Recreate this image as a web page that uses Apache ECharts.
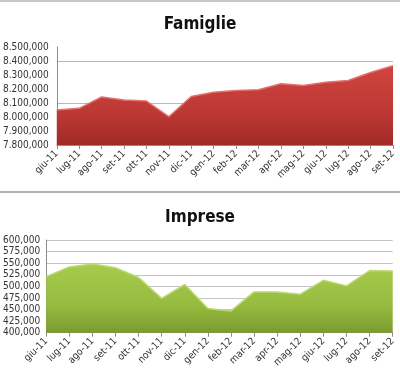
<!DOCTYPE html>
<html>
<head>
<meta charset="utf-8">
<script src="https://cdn.jsdelivr.net/npm/echarts@6/dist/echarts.min.js"></script>
<style>
html,body{margin:0;padding:0;background:#fff;}
#c{width:400px;height:380px;}
</style>
</head>
<body>
<div id="c"></div>
<script>
var categories = ['giu-11','lug-11','ago-11','set-11','ott-11','nov-11','dic-11','gen-12','feb-12','mar-12','apr-12','mag-12','giu-12','lug-12','ago-12','set-12'];
var famiglie = [8050000,8062000,8143000,8122000,8114000,8002000,8146000,8177000,8189000,8194000,8237000,8225000,8249000,8261000,8318000,8366000];
var imprese = [521000,542000,548000,540000,519000,474000,504000,452000,447000,488000,488000,483000,513000,501000,534000,533000];
var famiglieTicks = ['7.800,000','7.900,000','8.000,000','8.100,000','8.200,000','8.300,000','8.400,000','8.500,000'];
var impreseTicks = ['400,000','425,000','450,000','475,000','500,000','525,000','550,000','575,000','600,000'];
var famiglieGrid = [8100000, 8400000];
var titles = ['Famiglie', 'Imprese'];

var chart = echarts.init(document.getElementById('c'), null, {renderer:'canvas'});
var font = '"Liberation Sans Narrow", "DejaVu Sans Condensed", sans-serif';
function lbl(arr, min, step){ return function(v){ var i = Math.round((v-min)/step); return arr[i] !== undefined ? arr[i] : ''; }; }

var xAxisCommon = {
  type:'category', data:categories, boundaryGap:false,
  axisLine:{lineStyle:{color:'#8c8c8c', width:1}},
  axisTick:{show:true, lineStyle:{color:'#8c8c8c'}, length:4},
  axisLabel:{rotate:45, fontSize:10, color:'#333', fontFamily:font, margin:7}
};

chart.setOption({
  animation:false,
  title:[
    {text:titles[0], left:'center', top:11, textStyle:{fontSize:17, fontWeight:'bold', fontFamily:font, color:'#111'}},
    {text:titles[1], left:'center', top:204, textStyle:{fontSize:17, fontWeight:'bold', fontFamily:font, color:'#111'}}
  ],
  graphic:[
    {type:'rect', shape:{x:0,y:0,width:400,height:2}, style:{fill:'#c8c8c8'}, silent:true},
    {type:'rect', shape:{x:0,y:191,width:400,height:2}, style:{fill:'#b4b4b4'}, silent:true}
  ],
  grid:[
    {left:48.7, right:7, top:47, height:98, containLabel:false},
    {left:41.7, right:7.3, top:240, height:92.7, containLabel:false}
  ],
  xAxis:[
    Object.assign({gridIndex:0}, xAxisCommon),
    Object.assign({gridIndex:1}, xAxisCommon)
  ],
  yAxis:[
    {gridIndex:0, type:'value', min:7800000, max:8500000, interval:100000,
     axisLine:{show:true, lineStyle:{color:'#8c8c8c'}}, axisTick:{show:false},
     splitLine:{show:false},
     axisLabel:{formatter:lbl(famiglieTicks,7800000,100000), fontSize:10, color:'#333', fontFamily:font, margin:8}},
    {gridIndex:1, type:'value', min:400000, max:600000, interval:25000,
     axisLine:{show:true, lineStyle:{color:'#8c8c8c'}}, axisTick:{show:false},
     splitLine:{show:true, lineStyle:{color:'#c4c4c4', width:1}},
     axisLabel:{formatter:lbl(impreseTicks,400000,25000), fontSize:10, color:'#333', fontFamily:font, margin:6}}
  ],
  series:[
    {type:'line', xAxisIndex:0, yAxisIndex:0, data:[], z:1, silent:true,
     markLine:{silent:true, symbol:'none', label:{show:false}, z:0, zlevel:0,
       lineStyle:{color:'#b8b8b8', width:1, type:'solid'},
       data:famiglieGrid.map(function(v){return {yAxis:v};})}},
    {type:'line', xAxisIndex:0, yAxisIndex:0, data:famiglie, symbol:'none', z:3,
     lineStyle:{color:'#e2706b', width:1.5},
     areaStyle:{opacity:1, color:new echarts.graphic.LinearGradient(0,0,0,1,[
       {offset:0,color:'#d0443f'},{offset:0.6,color:'#bd3834'},{offset:1,color:'#9f2a27'}])}},
    {type:'line', xAxisIndex:1, yAxisIndex:1, data:imprese, symbol:'none', z:3,
     lineStyle:{color:'#bcd974', width:1.5},
     areaStyle:{opacity:1, color:new echarts.graphic.LinearGradient(0,0,0,1,[
       {offset:0,color:'#a6cb4c'},{offset:0.6,color:'#96bb3f'},{offset:1,color:'#7b9c2e'}])}}
  ]
});
</script>
</body>
</html>
